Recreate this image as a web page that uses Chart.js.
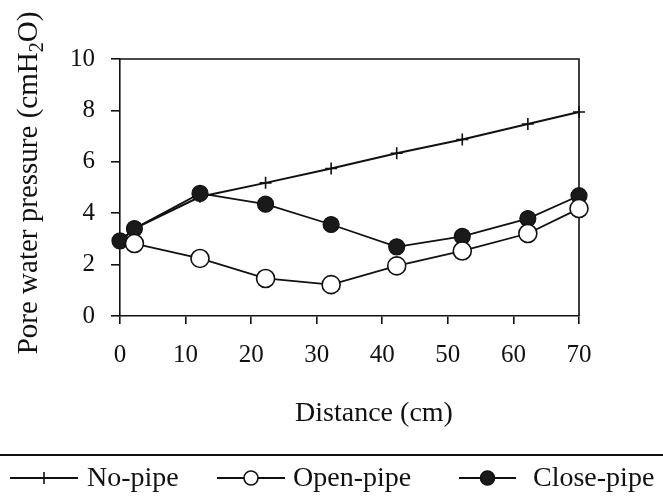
<!DOCTYPE html>
<html>
<head>
<meta charset="utf-8">
<title>Pore water pressure</title>
<script src="https://cdn.jsdelivr.net/npm/chart.js@4.4.0/dist/chart.umd.min.js"></script>
<style>
    html, body { margin: 0; padding: 0; background: #fff; }
    #wrap { width: 663px; height: 499px; position: relative; }
</style>
</head>
<body>
<div id="wrap"><canvas id="pressureChart"></canvas></div>
<script>
// values (distance in cm, pressure in cmH2O)
const distance = [0, 2.2, 12.2, 22.2, 32.2, 42.2, 52.2, 62.2, 70];
const noPipe = [2.9, 3.4, 4.64, 5.18, 5.74, 6.33, 6.87, 7.47, 7.94];
const openPipe = [null, 2.82, 2.24, 1.46, 1.22, 1.95, 2.53, 3.21, 4.18];
const closePipe = [2.92, 3.4, 4.77, 4.35, 3.56, 2.69, 3.1, 3.79, 4.68];
const xTicks = [0, 10, 20, 30, 40, 50, 60, 70];
const yTicks = [0, 2, 4, 6, 8, 10];

const SERIF = '"Liberation Serif", "DejaVu Serif", serif';
const INK = '#111';

function toPoints(values) {
    return distance.map(function (d, i) { return { x: d, y: values[i] }; });
}

function drawLegendMarker(ctx, kind, x, y) {
    ctx.save();
    ctx.strokeStyle = INK;
    ctx.lineWidth = 1.6;
    if (kind === 'cross') {
        ctx.beginPath();
        ctx.moveTo(x, y - 6);
        ctx.lineTo(x, y + 6);
        ctx.stroke();
    } else {
        ctx.beginPath();
        ctx.arc(x, y, 7, 0, Math.PI * 2);
        ctx.fillStyle = kind === 'open' ? '#fff' : '#1a1a1a';
        ctx.fill();
        ctx.stroke();
    }
    ctx.restore();
}

const framePlugin = {
    id: 'frame',
    beforeDatasetsDraw(chart) {
        const a = chart.chartArea;
        const ctx = chart.ctx;
        ctx.save();
        ctx.strokeStyle = INK;
        ctx.lineWidth = 1.6;
        ctx.beginPath();
        ctx.moveTo(a.left, a.top);
        ctx.lineTo(a.right, a.top);
        ctx.lineTo(a.right, a.bottom);
        ctx.stroke();
        ctx.restore();
    },
    afterDraw(chart) {
        const ctx = chart.ctx;
        ctx.save();
        ctx.fillStyle = INK;

        // x title
        ctx.font = '28px ' + SERIF;
        ctx.textAlign = 'center';
        ctx.textBaseline = 'alphabetic';
        ctx.fillText('Distance (cm)', 374, 421);

        // y title with a real subscript
        ctx.save();
        ctx.translate(37, 183);
        ctx.rotate(-Math.PI / 2);
        const main = 'Pore water pressure (cmH';
        const tail = 'O)';
        ctx.font = '29px ' + SERIF;
        const w1 = ctx.measureText(main).width;
        const w3 = ctx.measureText(tail).width;
        ctx.font = '20px ' + SERIF;
        const w2 = ctx.measureText('2').width;
        let x = -(w1 + w2 + w3) / 2;
        ctx.textAlign = 'left';
        ctx.font = '29px ' + SERIF;
        ctx.fillText(main, x, 0);
        x += w1;
        ctx.font = '20px ' + SERIF;
        ctx.fillText('2', x, 6);
        x += w2;
        ctx.font = '29px ' + SERIF;
        ctx.fillText(tail, x, 0);
        ctx.restore();

        // separator above the legend
        ctx.strokeStyle = INK;
        ctx.lineWidth = 2;
        ctx.beginPath();
        ctx.moveTo(0, 455);
        ctx.lineTo(chart.width, 455);
        ctx.stroke();

        // legend
        const ly = 478;
        const entries = [
            { label: 'No-pipe', kind: 'cross', x1: 10, x2: 78, tx: 87 },
            { label: 'Open-pipe', kind: 'open', x1: 217, x2: 285, tx: 293 },
            { label: 'Close-pipe', kind: 'closed', x1: 459, x2: 516, tx: 533 }
        ];
        ctx.font = '28px ' + SERIF;
        ctx.textAlign = 'left';
        ctx.textBaseline = 'middle';
        entries.forEach(function (e) {
            ctx.lineWidth = 1.8;
            ctx.beginPath();
            ctx.moveTo(e.x1, ly);
            ctx.lineTo(e.x2, ly);
            ctx.stroke();
            drawLegendMarker(ctx, e.kind, (e.x1 + e.x2) / 2, ly);
            ctx.fillText(e.label, e.tx, ly + 1);
        });
        ctx.restore();
    }
};

const ctx = document.getElementById('pressureChart').getContext('2d');

new Chart(ctx, {
    type: 'line',
    data: {
        datasets: [
            {
                label: 'No-pipe',
                data: toPoints(noPipe),
                borderColor: INK,
                borderWidth: 2,
                pointStyle: 'cross',
                pointRadius: 6,
                pointBorderWidth: 1.6,
                pointBorderColor: INK,
                tension: 0,
                clip: false,
                order: 3
            },
            {
                label: 'Open-pipe',
                data: toPoints(openPipe),
                borderColor: INK,
                borderWidth: 1.8,
                pointStyle: 'circle',
                pointRadius: 9,
                pointBorderWidth: 1.6,
                pointBorderColor: INK,
                pointBackgroundColor: '#fff',
                tension: 0,
                clip: false,
                order: 1
            },
            {
                label: 'Close-pipe',
                data: toPoints(closePipe),
                borderColor: INK,
                borderWidth: 1.8,
                pointStyle: 'circle',
                pointRadius: 8,
                pointBorderWidth: 1.2,
                pointBorderColor: INK,
                pointBackgroundColor: '#1a1a1a',
                tension: 0,
                clip: false,
                order: 2
            }
        ]
    },
    options: {
        responsive: true,
        maintainAspectRatio: false,
        animation: false,
        layout: { padding: { top: 59, right: 84, left: 0, bottom: 0 } },
        plugins: {
            legend: { display: false },
            tooltip: { enabled: false }
        },
        scales: {
            x: {
                type: 'linear',
                min: 0,
                max: 70,
                afterBuildTicks: function (scale) {
                    scale.ticks = xTicks.map(function (v) { return { value: v }; });
                },
                afterFit: function (scale) { scale.height = 183; },
                grid: { display: true, drawOnChartArea: false, drawTicks: true, tickLength: 8, color: INK, lineWidth: 1.6 },
                border: { display: true, color: INK, width: 1.6 },
                ticks: { color: INK, font: { family: SERIF, size: 25 }, padding: 16, maxRotation: 0 }
            },
            y: {
                min: 0,
                max: 10,
                afterBuildTicks: function (scale) {
                    scale.ticks = yTicks.map(function (v) { return { value: v }; });
                },
                afterFit: function (scale) { scale.width = 120; },
                grid: { display: true, drawOnChartArea: false, drawTicks: true, tickLength: 9, color: INK, lineWidth: 1.6 },
                border: { display: true, color: INK, width: 1.6 },
                ticks: { color: INK, font: { family: SERIF, size: 25 }, padding: 16 }
            }
        }
    },
    plugins: [framePlugin]
});
</script>
</body>
</html>
